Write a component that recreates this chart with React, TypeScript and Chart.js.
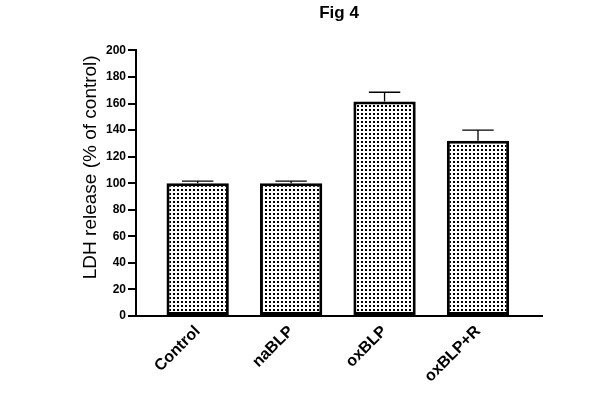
import React, { useEffect, useRef } from "react";
import { Chart, registerables } from "chart.js";

Chart.register(...registerables);

const chartTitle = "Fig 4";
const yAxisTitle = "LDH release (% of control)";
const categories = ["Control", "naBLP", "oxBLP", "oxBLP+R"];
const means = [100, 100, 161.5, 132];
const errors = [1.5, 1.5, 7, 8];

const errorBarPlugin = {
  id: "errorBars",
  afterDatasetsDraw(chart: any) {
    const { ctx, scales } = chart;
    const xs = scales.x;
    const ys = scales.y;
    ctx.save();
    ctx.strokeStyle = "#000";
    ctx.lineWidth = 1.3;
    means.forEach((m, i) => {
      const x = xs.getPixelForValue(i);
      const yb = ys.getPixelForValue(m);
      const yt = ys.getPixelForValue(m + errors[i]);
      const half = (xs.getPixelForValue(1) - xs.getPixelForValue(0)) * 0.168;
      ctx.beginPath();
      ctx.moveTo(x, yb);
      ctx.lineTo(x, yt);
      ctx.moveTo(x - half, yt);
      ctx.lineTo(x + half, yt);
      ctx.stroke();
    });
    ctx.restore();
  },
};

const yTitlePlugin = {
  id: "yTitle",
  afterDraw(chart: any) {
    const { ctx, chartArea } = chart;
    const x = chartArea.left - 45;
    const y = chartArea.top + (chartArea.bottom - chartArea.top) * 0.44;
    ctx.save();
    ctx.translate(x, y);
    ctx.rotate(-Math.PI / 2);
    ctx.font = "19px 'Liberation Sans', Arial, sans-serif";
    ctx.fillStyle = "#000";
    ctx.textAlign = "center";
    ctx.textBaseline = "middle";
    ctx.fillText(yAxisTitle, 0, 0);
    ctx.restore();
  },
};

export default function App() {
  const ref = useRef<HTMLCanvasElement | null>(null);

  useEffect(() => {
    const canvas = ref.current;
    if (!canvas) return;
    const pc = document.createElement("canvas");
    pc.width = 4;
    pc.height = 4;
    const pctx = pc.getContext("2d")!;
    pctx.fillStyle = "#fff";
    pctx.fillRect(0, 0, 4, 4);
    pctx.fillStyle = "#000";
    pctx.fillRect(1, 1, 2, 2);
    const ctx = canvas.getContext("2d")!;
    const pattern = ctx.createPattern(pc, "repeat");

    Chart.defaults.font.family = "'Liberation Sans', Arial, sans-serif";
    Chart.defaults.color = "#000";

    const chart = new Chart(canvas, {
      type: "bar",
      data: {
        datasets: [
          {
            data: means.map((v, i) => ({ x: i, y: v })),
            backgroundColor: pattern as any,
            borderColor: "#000",
            borderWidth: 3,
            borderSkipped: false,
            categoryPercentage: 1,
            barPercentage: 0.667,
          },
        ],
      },
      options: {
        responsive: false,
        animation: false,
        layout: { padding: { left: 0, right: 58, top: 0, bottom: 0 } },
        plugins: {
          legend: { display: false },
          tooltip: { enabled: false },
          title: {
            display: true,
            text: chartTitle,
            fullSize: false,
            font: { size: 17, weight: "bold" },
            color: "#000",
            padding: { top: 3, bottom: 27 },
          },
        },
        scales: {
          x: {
            type: "linear",
            min: -0.66,
            max: 3.685,
            offset: false,
            grid: { display: false, drawTicks: false },
            border: { display: true, color: "#000", width: 2 },
            afterBuildTicks: (scale: any) => {
              scale.ticks = categories.map((_, i) => ({ value: i }));
            },
            afterFit: (scale: any) => {
              scale.height = 84;
            },
            ticks: {
              autoSkip: false,
              minRotation: 45,
              maxRotation: 45,
              padding: 6,
              font: { size: 16, weight: "bold" },
              color: "#000",
              callback: (v: any) => categories[Number(v)] ?? "",
            },
          },
          y: {
            min: 0,
            max: 200,
            grid: {
              display: true,
              drawOnChartArea: false,
              drawTicks: true,
              tickLength: 8,
              color: "#000",
              lineWidth: 2,
            },
            border: { display: true, color: "#000", width: 2 },
            afterFit: (scale: any) => {
              scale.width = 136;
            },
            ticks: {
              stepSize: 20,
              padding: 2,
              font: { size: 12, weight: "bold" },
              color: "#000",
            },
          },
        },
      },
      plugins: [errorBarPlugin, yTitlePlugin],
    });
    return () => chart.destroy();
  }, []);

  return (
    <div style={{ position: "absolute", left: 0, top: 0, width: 600, height: 400, background: "#fff" }}>
      <canvas ref={ref} width={600} height={400} style={{ width: 600, height: 400 }} />
    </div>
  );
}
